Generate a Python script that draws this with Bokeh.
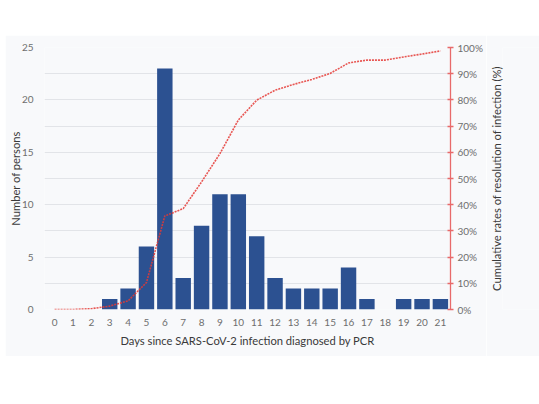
import math
from bokeh.plotting import figure
from bokeh.models import (Range1d, LinearAxis, FixedTicker, PrintfTickFormatter,
                          ColumnDataSource, Spacer)
from bokeh.layouts import column, row
from bokeh.embed import file_html
from bokeh.resources import INLINE

days = list(range(22))
counts = [0, 0, 0, 1, 2, 6, 23, 3, 8, 11, 11, 7, 3, 2, 2, 2, 4, 1, 0, 1, 1, 1]
cumulative_pct = [0, 0, 0.3, 1.3, 3.3, 10.3, 35.7, 38.5, 48.7, 59.5, 72.3, 79.9,
                  83.7, 85.9, 87.8, 90.1, 94.1, 95.2, 95.2, 96.4, 97.5, 98.7]
left_ticks = [0, 5, 10, 15, 20, 25]
right_ticks = [0, 10, 20, 30, 40, 50, 60, 70, 80, 90, 100]
grid_ticks = [0, 2.5, 5, 7.5, 10, 12.5, 15, 17.5, 20, 22.5, 25]
right_title = "Cumulative rates of resolution of infection (%)"

BG = "#f8f9fb"
FONT = "Lato"
TICK_COLOR = "#6e6e6e"
TITLE_COLOR = "#3a3a3a"

src = ColumnDataSource(dict(day=days, count=counts, pct=cumulative_pct))

p = figure(width=481, height=321, output_backend="svg", toolbar_location=None,
           x_range=Range1d(-0.55, 21.55), y_range=Range1d(0, 25),
           min_border_left=38, min_border_right=36, min_border_top=12,
           min_border_bottom=47, background_fill_color=BG, border_fill_color=BG,
           outline_line_color=None)
p.extra_y_ranges = {"pct": Range1d(0, 100)}

p.vbar(x="day", top="count", width=0.84, source=src, fill_color="#2c5191",
       line_color=None)
p.line(x="day", y="pct", source=src, y_range_name="pct", line_color="#e53935",
       line_width=1.6, line_dash="2 1", line_alpha=0.85)

# axes
p.xaxis.ticker = FixedTicker(ticks=days)
p.xaxis.axis_label = "Days since SARS-CoV-2 infection diagnosed by PCR"
p.yaxis.ticker = FixedTicker(ticks=left_ticks)
p.yaxis.axis_label = "Number of persons"
for ax in (p.xaxis[0], p.yaxis[0]):
    ax.axis_line_color = None
    ax.major_tick_line_color = None
    ax.minor_tick_line_color = None
    ax.major_label_text_font = FONT
    ax.major_label_text_font_size = "10px"
    ax.major_label_text_color = TICK_COLOR
    ax.axis_label_text_font = FONT
    ax.axis_label_text_font_size = "11.2px"
    ax.axis_label_text_font_style = "normal"
    ax.axis_label_text_color = TITLE_COLOR
p.yaxis.major_label_standoff = 5
p.yaxis.axis_label_standoff = -3
p.xaxis.major_label_standoff = 3
p.xaxis.axis_label_standoff = 5

right = LinearAxis(y_range_name="pct", ticker=FixedTicker(ticks=right_ticks),
                   formatter=PrintfTickFormatter(format="%d%%"))
right.axis_line_color = "#e86a6a"
right.axis_line_width = 1.3
right.major_tick_line_color = "#e86a6a"
right.major_tick_line_width = 1.3
right.major_tick_in = 3
right.major_tick_out = 3
right.minor_tick_line_color = None
right.major_label_text_font = FONT
right.major_label_text_font_size = "10px"
right.major_label_text_color = TICK_COLOR
right.major_label_standoff = 4
p.add_layout(right, "right")

p.xgrid.grid_line_color = None
p.ygrid.ticker = FixedTicker(ticks=grid_ticks)
p.ygrid.grid_line_color = "#e2e4e8"
p.ygrid.grid_line_width = 1

# narrow companion figure that only carries the right-hand title,
# drawn as a left axis label so it reads bottom to top
p2 = figure(width=53, height=321, output_backend="svg", toolbar_location=None,
            x_range=Range1d(0, 1), y_range=Range1d(0, 100),
            min_border_left=16, min_border_right=0, min_border_top=12,
            min_border_bottom=47, background_fill_color=BG, border_fill_color=BG,
            outline_line_color=None)
p2.xaxis.visible = False
p2.grid.visible = False
p2.yaxis.ticker = FixedTicker(ticks=[])
p2.yaxis.axis_line_color = None
p2.yaxis.major_tick_line_color = None
p2.yaxis.minor_tick_line_color = None
p2.yaxis.axis_label = right_title
p2.yaxis.axis_label_standoff = 0
p2.yaxis.axis_label_text_font = FONT
p2.yaxis.axis_label_text_font_size = "11.2px"
p2.yaxis.axis_label_text_font_style = "normal"
p2.yaxis.axis_label_text_color = TITLE_COLOR

layout = column(Spacer(width=539, height=35),
                row(Spacer(width=5, height=321), p, p2))
open("out.html", "w").write(file_html(layout, INLINE))
